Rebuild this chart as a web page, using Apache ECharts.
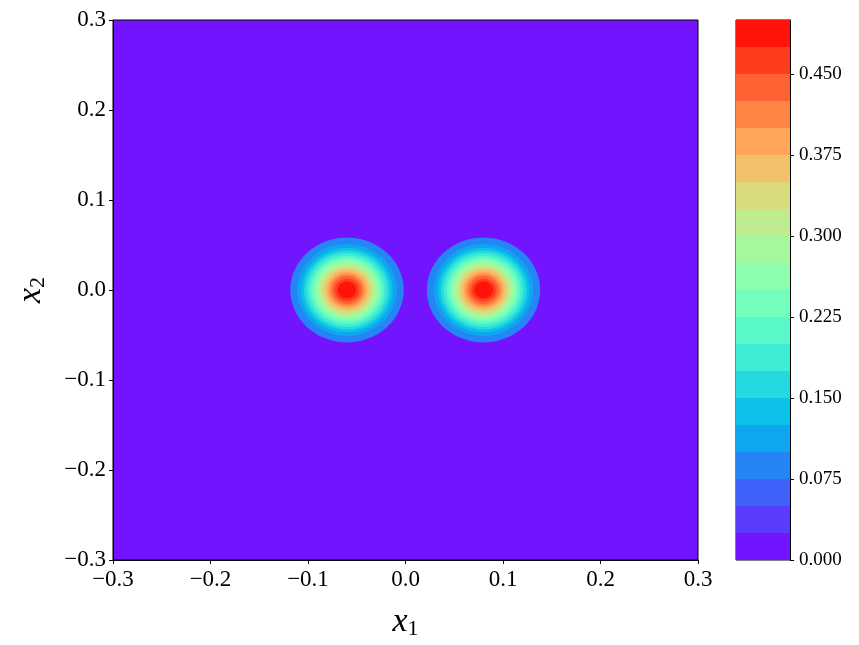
<!DOCTYPE html>
<html>
<head>
<meta charset="utf-8">
<script src="https://cdn.jsdelivr.net/npm/echarts@6/dist/echarts.min.js"></script>
<style>
  html, body { margin: 0; padding: 0; background: #fff; }
  #chart { width: 859px; height: 645px; }
</style>
</head>
<body>
<div id="chart"></div>
<script>
// two bumps (data units)
const blobX = [-0.06, 0.08];
const blobY = [0.0, 0.0];

// contour levels of the colorbar
const levels = [0.000, 0.025, 0.050, 0.075, 0.100, 0.125, 0.150, 0.175, 0.200, 0.225,
                0.250, 0.275, 0.300, 0.325, 0.350, 0.375, 0.400, 0.425, 0.450, 0.475, 0.500];

// radius (data units) inside which the value is >= levels[k+1], k = 0..18
const ringRadii = [0.058, 0.058, 0.058, 0.051, 0.047, 0.044, 0.041, 0.038, 0.0355, 0.033,
                   0.0305, 0.028, 0.0255, 0.023, 0.0205, 0.018, 0.0155, 0.0125, 0.0095];

// rainbow colormap, one colour per band
const bandColors = ['#7314FF', '#593CFD', '#4062FA', '#2685F5', '#0DA6EF', '#0DC2E8', '#26D9DE',
                    '#40ECD4', '#59F8C8', '#73FEBB', '#8CFEAD', '#A6F89E', '#BFEC8E', '#D9D97D',
                    '#F2C26B', '#FFA658', '#FF8545', '#FF6232', '#FF3C1E', '#FF140A'];

const serif = 'Liberation Serif';
const fmtTick = v => (v < -1e-9 ? '\u2212' : '') + Math.abs(v).toFixed(1);

const ringData = [];
for (let b = 0; b < blobX.length; b++) {
  for (let k = 0; k < ringRadii.length; k++) {
    ringData.push([blobX[b], blobY[b], ringRadii[k], k + 1]);
  }
}

const barData = [];
for (let i = 0; i < levels.length - 1; i++) {
  barData.push([levels[i], levels[i + 1], i]);
}

const chart = echarts.init(document.getElementById('chart'));

const tickStyle = { show: true, length: 4, inside: false, lineStyle: { color: '#000', width: 1 } };
const lineStyle = { show: true, onZero: false, lineStyle: { color: '#000', width: 1 } };
const nameRich = {
  i: { fontFamily: serif, fontStyle: 'italic', fontSize: 34, color: '#000' },
  s: { fontFamily: serif, fontSize: 22, color: '#000', padding: [14, 0, 0, 0] }
};

chart.setOption({
  animation: false,
  grid: [
    { left: 113, top: 20, width: 585, height: 540, show: true,
      backgroundColor: bandColors[0], borderColor: '#000', borderWidth: 1 },
    { left: 736, top: 20, width: 54, height: 540, show: true,
      backgroundColor: 'transparent', borderColor: '#000', borderWidth: 1 }
  ],
  xAxis: [
    {
      gridIndex: 0, type: 'value', min: -0.3, max: 0.3, interval: 0.1,
      axisLine: lineStyle, axisTick: tickStyle, splitLine: { show: false },
      axisLabel: { formatter: fmtTick, color: '#000', fontFamily: serif, fontSize: 23, margin: 8 },
      name: '{i|x}{s|1}', nameLocation: 'middle', nameGap: 44,
      nameTextStyle: { rich: nameRich }
    },
    { gridIndex: 1, type: 'value', min: 0, max: 1, show: false }
  ],
  yAxis: [
    {
      gridIndex: 0, type: 'value', min: -0.3, max: 0.3, interval: 0.1,
      axisLine: lineStyle, axisTick: tickStyle, splitLine: { show: false },
      axisLabel: { formatter: fmtTick, color: '#000', fontFamily: serif, fontSize: 23, margin: 7 },
      name: '{i|x}{s|2}', nameLocation: 'middle', nameGap: 64, nameRotate: 90,
      nameTextStyle: { rich: nameRich }
    },
    {
      gridIndex: 1, type: 'value', position: 'right', min: 0, max: 0.5, interval: 0.075,
      axisLine: lineStyle, axisTick: tickStyle, splitLine: { show: false },
      axisLabel: { formatter: v => v.toFixed(3), color: '#000', fontFamily: serif,
                   fontSize: 19, margin: 9, showMaxLabel: false }
    }
  ],
  series: [
    {
      type: 'custom', xAxisIndex: 0, yAxisIndex: 0,
      encode: { x: 0, y: 1 },
      data: ringData,
      renderItem: function (params, api) {
        const c = api.coord([api.value(0), api.value(1)]);
        const s = api.size([api.value(2), api.value(2)]);
        return {
          type: 'ellipse',
          shape: { cx: c[0], cy: c[1], rx: s[0], ry: s[1] },
          style: { fill: bandColors[api.value(3)] }
        };
      }
    },
    {
      type: 'custom', xAxisIndex: 1, yAxisIndex: 1,
      encode: { y: [0, 1] },
      data: barData,
      renderItem: function (params, api) {
        const p1 = api.coord([0, api.value(1)]);
        const p2 = api.coord([1, api.value(0)]);
        return {
          type: 'rect',
          shape: { x: p1[0], y: p1[1], width: p2[0] - p1[0], height: p2[1] - p1[1] },
          style: { fill: bandColors[api.value(2)] }
        };
      }
    }
  ]
});
</script>
</body>
</html>
